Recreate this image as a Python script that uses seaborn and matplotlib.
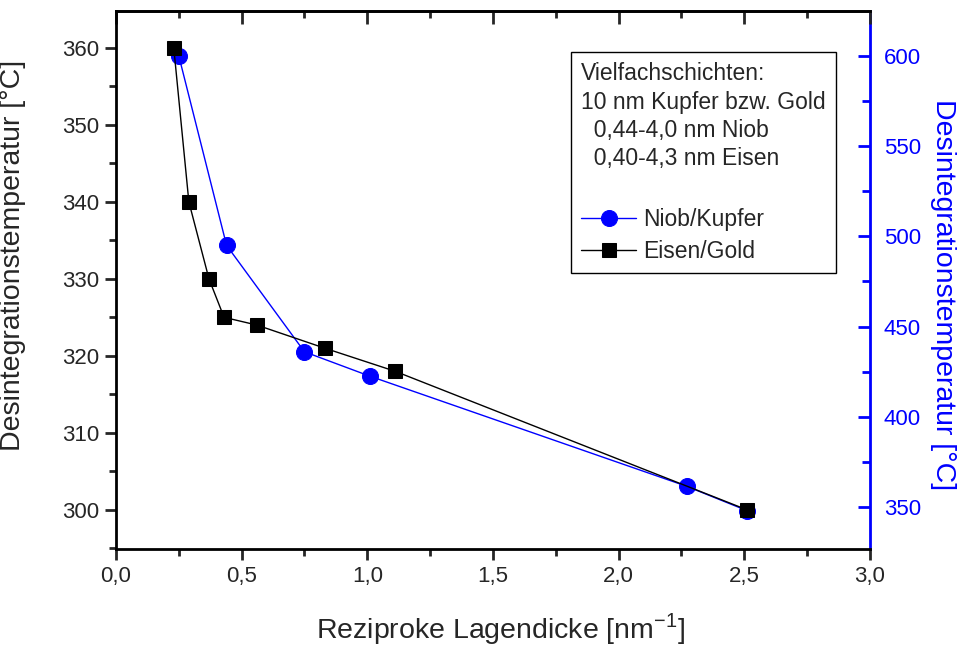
import matplotlib
matplotlib.use("Agg")
import matplotlib.pyplot as plt
from matplotlib.ticker import MultipleLocator, FuncFormatter
import seaborn as sns

# Eisen/Gold (left axis)
x_fe = [0.23, 0.29, 0.37, 0.43, 0.56, 0.83, 1.11, 2.51]
t_fe = [360, 340, 330, 325, 324, 321, 318, 300]

# Niob/Kupfer (right axis)
x_nb = [0.25, 0.44, 0.75, 1.01, 2.27, 2.51]
t_nb = [600, 495, 436, 422.5, 361.5, 348]

legend_title = ("Vielfachschichten:\n10 nm Kupfer bzw. Gold\n"
                "  0,44-4,0 nm Niob\n  0,40-4,3 nm Eisen\n")

BLUE = "#0000ff"

sns.set_style("white")
plt.rcParams["font.family"] = ["Liberation Sans", "DejaVu Sans"]
plt.rcParams["axes.linewidth"] = 2.0

fig = plt.figure(figsize=(9.64, 6.45), dpi=100)
ax = fig.add_axes([0.1203, 0.1488, 0.7822, 0.8342])
ax2 = ax.twinx()

sns.lineplot(x=x_fe, y=t_fe, ax=ax, color="black", marker="s", markersize=10,
             markeredgecolor="black", linewidth=1.0, sort=False)
sns.lineplot(x=x_nb, y=t_nb, ax=ax2, color=BLUE, marker="o", markersize=11.5,
             markeredgecolor=BLUE, linewidth=1.0, sort=False)

# black series drawn above blue one
ax.set_zorder(2)
ax.patch.set_visible(False)
ax2.set_zorder(1)

ax.set_xlim(0, 3.0)
ax.set_ylim(294.9, 364.8)
ax2.set_ylim(326.7, 624.9)

comma = FuncFormatter(lambda v, p: f"{v:.1f}".replace(".", ","))
ax.xaxis.set_major_locator(MultipleLocator(0.5))
ax.xaxis.set_minor_locator(MultipleLocator(0.25))
ax.xaxis.set_major_formatter(comma)
ax.yaxis.set_major_locator(MultipleLocator(10))
ax.yaxis.set_minor_locator(MultipleLocator(5))
ax2.yaxis.set_major_locator(MultipleLocator(50))
ax2.yaxis.set_minor_locator(MultipleLocator(25))

ax.tick_params(which="major", direction="out", length=8, width=2, labelsize=16,
               pad=4, left=True, bottom=True)
ax.tick_params(which="minor", direction="out", length=5, width=2,
               left=True, bottom=True)
ax2.tick_params(which="major", direction="in", length=8.5, width=2,
                labelsize=16, colors=BLUE, right=True, pad=10)
ax2.tick_params(which="minor", direction="in", length=5.5, width=2,
                colors=BLUE, right=True)

# mirrored inward ticks on top
top = ax.secondary_xaxis("top")
top.xaxis.set_major_locator(MultipleLocator(0.5))
top.xaxis.set_minor_locator(MultipleLocator(0.25))
top.tick_params(which="major", direction="in", length=9, width=2, labeltop=False)
top.tick_params(which="minor", direction="in", length=5, width=2)

for s in ["left", "bottom", "top"]:
    ax.spines[s].set_color("black")
ax.spines["right"].set_visible(False)
for s in ["left", "bottom", "top"]:
    ax2.spines[s].set_visible(False)
ax2.spines["right"].set_color(BLUE)
ax2.spines["right"].set_linewidth(2.0)

ax.set_xlabel("Reziproke Lagendicke [nm$^{\\mathregular{-1}}$]", fontsize=20.5)
ax.xaxis.set_label_coords(0.51, -0.115)
ax.set_ylabel("Desintegrationstemperatur [°C]", fontsize=20.5)
ax.yaxis.set_label_coords(-0.119, 0.545)
ax2.set_ylabel("Desintegrationstemperatur [°C]", fontsize=20.5, color=BLUE,
               rotation=270, va="center")
ax2.yaxis.set_label_coords(1.097, 0.472)

h_fe = ax.lines[0]
h_nb = ax2.lines[0]
for a in (ax, ax2):
    if a.get_legend() is not None:
        a.get_legend().remove()

leg = ax.legend([h_nb, h_fe], ["Niob/Kupfer", "Eisen/Gold"],
                title=legend_title, title_fontsize=16.5, fontsize=16.5,
                alignment="left", loc="upper right",
                bbox_to_anchor=(0.955, 0.924), frameon=True, fancybox=False,
                edgecolor="black", framealpha=1, borderpad=0.45,
                handlelength=2.4, handletextpad=0.3, labelspacing=0.4,
                borderaxespad=0)
leg.get_frame().set_linewidth(1.0)
leg.get_title().set_linespacing(1.3)

fig.savefig("out.png", dpi=100)
